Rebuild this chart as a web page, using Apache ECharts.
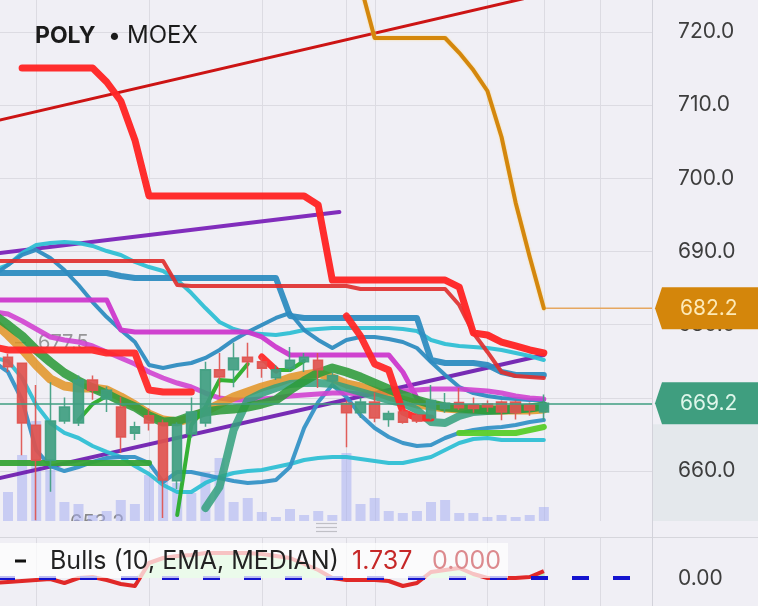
<!DOCTYPE html>
<html>
<head>
<meta charset="utf-8">
<script src="https://cdn.jsdelivr.net/npm/echarts@6.0.0/dist/echarts.min.js"></script>
<style>
html,body{margin:0;padding:0;background:#f0eff5;overflow:hidden;}
#chart{width:758px;height:606px;}
</style>
</head>
<body>
<div id="chart"></div>
<script>
const FONT = 'Inter, Roboto, "Noto Sans", sans-serif';

// candle slots (bar index), -1 is the partly hidden slot at the left edge
const barIndex = [-1,0,1,2,3,4,5,6,7,8,9,10,11,12,13,14,15,16,17,18,19,20,21,22,23,24,25,26,27,28,29,30,31,32,33,34,35,36,37,38];
// day separators (bar index)
const dayBreaks = [2,10,18,24,26,34,38,42];
// price tick labels
const priceTicks = [660,670,680,690,700,710,720];
const bullsTicks = [0];

// candles
const candleOpen  = [null,675.5,674.7,666.2,661.4,666.8,666.5,672.4,669.8,668.7,665.1,667.5,666.5,658.6,665.0,666.5,673.8,673.8,675.5,674.9,672.7,674.0,674.9,675.1,672.3,669.2,667.9,669.4,667.0,668.0,667.5,667.2,668.5,669.3,669.0,669.1,669.4,669.4,669.0,668.0];
const candleClose = [null,674.2,666.5,661.4,666.8,668.7,672.4,671.0,671.0,664.6,666.0,666.5,658.7,666.3,668.0,673.8,672.8,675.4,674.9,674.0,673.8,675.1,675.5,673.8,673.0,667.9,669.4,667.2,667.8,666.6,666.8,669.6,669.2,668.6,668.5,668.7,668.0,667.9,668.3,669.2];
const candleLow   = [null,673.5,662.1,653.2,657.1,666.4,666.1,669.7,668.0,662.4,664.2,665.5,653.5,657.5,664.5,666.0,670.1,671.4,672.7,672.7,672.4,673.5,673.5,671.3,671.5,663.2,667.2,666.6,666.0,666.4,666.5,666.9,667.9,668.3,667.9,668.0,666.9,667.0,667.5,666.9];
const candleHigh  = [null,676.0,674.8,671.7,672.1,670.0,673.0,673.0,671.5,670.1,666.7,668.5,667.0,666.6,670.0,674.9,676.1,677.5,677.5,675.5,674.4,676.9,676.1,676.1,673.5,669.6,670.0,670.7,668.2,668.4,667.8,671.7,670.6,671.3,670.0,669.6,669.6,669.6,669.3,670.4];
const volume      = [null,29,66,103,51,19,17,6,10,21,17,46,41,38,28,49,63,19,23,9,4,12,6,10,6,68,17,23,10,8,10,19,21,8,8,4,6,4,6,14];

// indicator lines
const thickRed  = [null,null,715.08,715.08,715.08,715.08,715.08,715.08,713.16,710.56,705.23,697.57,697.57,697.57,697.57,697.57,697.57,697.57,697.57,697.57,697.57,697.57,697.57,696.33,686.07,686.07,686.07,686.07,686.07,686.07,686.07,686.07,686.07,685.11,678.82,678.55,677.59,677.05,676.50,676.09];
const thinRed   = [688.67,688.67,688.67,688.67,688.67,688.67,688.67,688.67,688.67,688.67,688.67,688.67,688.67,685.39,685.25,685.25,685.25,685.25,685.25,685.25,685.25,685.25,685.25,685.25,685.25,685.25,684.84,684.84,684.84,684.84,684.84,684.84,684.84,682.65,678.82,676.23,673.49,672.94,672.80,672.67];
const redST     = [676.91,676.50,676.50,676.50,676.50,676.50,676.50,676.50,676.09,676.09,676.09,671.03,670.75,670.75,670.75,null,null,null,null,675.54,673.76,null,null,null,null,681.15,678.41,674.58,673.76,668.02,667.20,667.20,null,null,null,null,null,null,null,null];
const greenST   = [null,null,null,null,null,null,666.92,669.11,670.20,null,null,null,null,653.93,666.24,668.70,672.39,672.26,674.58,null,673.76,673.76,675.00,null,null,null,null,null,null,null,null,null,null,null,null,null,null,null,null,null];
const limeLine  = [null,null,null,null,null,null,null,null,null,null,null,null,null,null,null,null,null,null,null,null,null,null,null,null,null,null,null,null,null,null,null,null,null,665.15,665.15,665.15,665.15,665.15,665.56,665.97];
const greenFlat = [661.04,661.04,661.04,661.04,661.04,661.04,661.04,661.04,661.04,661.04,661.04,661.04,null,null,null,null,null,null,null,null,null,null,null,null,null,null,null,null,null,null,null,null,null,null,null,null,null,null,null,null];
const darkGreen = [681.29,679.92,678.41,676.50,674.86,673.35,672.26,671.30,670.48,669.52,668.70,667.47,666.65,666.79,667.47,668.02,668.29,668.43,668.70,669.11,669.66,671.03,672.26,673.35,674.04,673.49,672.80,671.98,671.16,670.34,669.66,669.11,668.70,668.57,668.43,668.29,668.29,668.43,668.57,668.84];
const orangeMA  = [680.33,678.55,676.64,674.45,672.53,671.57,671.30,671.30,671.03,670.07,668.98,667.74,666.92,666.65,667.20,668.16,669.11,670.07,670.75,671.44,671.98,672.67,673.08,673.35,672.67,671.85,671.44,670.89,670.20,669.66,669.11,668.84,668.57,668.43,668.29,668.29,668.29,668.29,668.29,668.43];
const magentaStep  = [683.34,683.34,683.34,683.34,683.34,683.34,683.34,683.34,683.34,679.23,678.96,678.96,678.96,678.96,678.96,678.96,678.96,678.96,678.96,678.28,676.91,675.82,675.82,675.82,675.82,675.82,675.82,675.82,675.82,673.49,669.93,668.57,null,null,null,null,null,null,null,null];
const magentaCurve = [681.70,681.42,680.47,679.37,678.28,677.87,677.59,677.05,676.23,675.41,674.58,673.49,672.67,671.98,671.44,670.61,669.93,669.66,669.66,669.80,669.93,670.20,670.34,670.48,670.61,670.61,670.48,670.48,670.61,670.89,671.03,671.16,671.16,671.16,671.03,670.89,670.61,670.20,669.93,669.80];
const blueStep  = [687.03,687.03,687.03,687.03,687.03,687.03,687.03,687.03,687.03,686.62,686.35,686.35,686.35,686.35,686.35,686.35,686.35,686.35,686.35,686.35,686.35,681.15,680.88,680.88,680.88,680.88,680.88,680.88,680.88,680.88,680.88,675.13,674.72,674.72,674.72,674.45,673.49,673.08,673.08,673.08];
const blueWave  = [686.76,688.13,689.50,690.18,689.09,687.44,685.39,683.06,681.01,679.23,677.59,674.45,674.04,674.45,674.72,675.41,676.50,677.87,678.96,679.92,680.88,681.56,679.23,677.87,676.77,677.87,678.28,678.28,678.00,677.59,676.77,674.86,673.08,671.44,670.61,670.20,669.93,669.80,669.66,669.66];
const blueLow   = [674.86,673.49,669.66,662.82,660.63,659.94,660.49,661.18,661.73,661.86,661.86,661.04,658.44,659.81,659.81,659.40,658.99,658.58,658.31,658.44,658.71,660.49,665.83,669.39,671.71,670.07,667.61,665.83,664.60,663.78,663.37,663.50,664.46,665.15,665.56,665.83,665.97,666.24,666.65,666.92];
const cyanUp    = [687.44,688.13,689.77,690.86,691.13,691.27,691.13,690.73,690.04,689.50,688.54,687.85,687.31,686.07,684.29,682.24,680.33,679.37,678.82,678.69,678.55,678.82,679.23,679.37,679.51,679.51,679.51,679.51,679.51,679.37,679.10,677.87,677.32,677.05,676.91,676.77,676.50,676.09,675.68,675.13];
const cyanLow   = [675.41,675.00,672.67,668.98,666.51,665.15,664.46,663.37,662.55,661.86,660.63,659.54,658.03,657.07,657.07,658.31,659.13,659.67,659.94,660.08,660.49,660.90,661.45,661.73,661.86,661.86,661.59,661.31,661.04,661.04,661.45,661.86,662.82,663.78,664.32,664.46,664.19,664.19,664.19,664.19];
const tealLine  = [null,null,null,null,null,null,null,null,null,null,null,null,null,null,null,654.88,657.76,665.56,669.66,670.61,671.30,671.85,671.98,671.98,671.85,671.30,670.75,670.20,669.66,669.25,668.29,666.65,666.51,667.47,668.02,668.16,668.29,668.43,668.57,668.84];
const goldLine  = [null,null,null,null,null,null,null,null,null,null,null,null,null,null,null,null,null,null,null,null,null,null,null,null,null,734.2,726.4,719.18,719.18,719.18,719.18,719.18,719.18,717.16,714.80,711.93,705.64,696.65,689.22,682.2];
// drawn trend lines: [bar index, price] anchors
const trendRedX = [-1, 38],   trendRedY = [707.77, 725.2];
const purpleUpX = [-1, 23.5], purpleUpY = [689.67, 695.38];
const purpleLoX = [-1, 38],   purpleLoY = [658.80, 675.82];
// Bulls power (10, EMA, MEDIAN)
const bulls = [-1.2,-1.0,-0.75,-0.5,-0.25,-1.25,0,0.25,-0.5,-1.5,-2.0,3.75,5.0,5.5,5.75,6.25,6.25,6.25,6.25,6.0,5.5,5.0,3.5,2.0,0,-0.5,-0.5,-0.5,-0.75,-2.0,-1.25,1.5,2.0,2.5,1.0,0,0,0,0.25,1.737];

// visible ranges of the panes
const X_MIN = -0.567, X_MAX = 45.67;
const P_MIN = 653.106, P_MAX = 724.378;
const B_MIN = -7, B_MAX = 10;

const chart = echarts.init(document.getElementById('chart'), null, {renderer: 'canvas', width: 758, height: 606});

const pairs = arr => barIndex.map((x, k) => [x, arr[k] == null ? '-' : arr[k]]);
const anchors = (xs, ys) => xs.map((x, k) => [x, ys[k]]);
function lineS(data, color, width, opacity, z, extra) {
  return {type: 'line', data, xAxisIndex: 0, yAxisIndex: 0, symbol: 'none', silent: true,
    connectNulls: false, z: z || 2,
    lineStyle: Object.assign({color, width, opacity: opacity == null ? 1 : opacity, cap: 'round', join: 'round'}, extra || {})};
}
const candleData = barIndex.map((x, k) => candleOpen[k] == null ? null :
  [x, candleOpen[k], candleClose[k], candleLow[k], candleHigh[k]]).filter(Boolean);
const lastClose = candleClose[candleClose.length - 1];
const goldLast = goldLine[goldLine.length - 1];
const lastIdx = barIndex[barIndex.length - 1];

const option = {
  animation: false,
  backgroundColor: '#f0eff5',
  grid: [
    {left: 0, width: 652, top: 0, height: 521},
    {left: 0, width: 652, top: 421, height: 100},
    {left: 0, width: 652, top: 538, height: 68}
  ],
  xAxis: [0, 1, 2].map(g => ({type: 'value', gridIndex: g, min: X_MIN, max: X_MAX, show: false, splitLine: {show: false}})),
  yAxis: [
    {type: 'value', gridIndex: 0, min: P_MIN, max: P_MAX, show: false, splitLine: {show: false}},
    {type: 'value', gridIndex: 1, min: 0, max: 100, show: false, splitLine: {show: false}},
    {type: 'value', gridIndex: 2, min: B_MIN, max: B_MAX, show: false, splitLine: {show: false}}
  ],
  series: [
    {type: 'bar', xAxisIndex: 1, yAxisIndex: 1, data: pairs(volume), barWidth: 10, silent: true, z: 1,
     itemStyle: {color: 'rgba(168,174,240,0.55)'}},
    {type: 'candlestick', xAxisIndex: 0, yAxisIndex: 0, data: candleData, barWidth: 10, silent: true, z: 2,
     itemStyle: {color: '#3f9e80', color0: '#e0524e', borderColor: '#3f9e80', borderColor0: '#e0524e', borderWidth: 1.5, opacity: 0.92},
     markLine: {silent: true, symbol: ['none', 'none'], label: {show: false},
       lineStyle: {color: '#3f9e80', width: 1.5, type: 'solid'}, data: [{yAxis: lastClose}]}},
    lineS(anchors(purpleUpX, purpleUpY), '#7a22b8', 4, 0.95),
    lineS(anchors(purpleLoX, purpleLoY), '#7020b0', 4, 0.95),
    lineS(pairs(cyanUp), '#2fbfd4', 4, 0.95),
    lineS(pairs(cyanLow), '#2fbfd4', 4, 0.95),
    lineS(pairs(blueStep), '#2e8cc0', 6, 0.95),
    lineS(pairs(blueWave), '#2e8cc0', 4, 0.95),
    lineS(pairs(blueLow), '#3592c6', 4, 0.95),
    lineS(pairs(magentaStep), '#cc38cc', 5, 0.95),
    lineS(pairs(magentaCurve), '#d042d0', 5, 0.9),
    lineS(anchors(trendRedX, trendRedY), '#cc1414', 3, 1),
    lineS(pairs(thinRed), '#e0302f', 4, 0.92),
    lineS(pairs(orangeMA), '#e0901c', 9, 0.82),
    lineS(pairs(tealLine), '#33a07c', 8, 0.85),
    lineS(pairs(darkGreen), '#2c9b3a', 9, 0.88),
    lineS(pairs(greenFlat), '#36a336', 6, 0.95),
    lineS(pairs(limeLine), '#58cc2a', 6, 0.95),
    lineS(pairs(greenST), '#2aad2a', 4, 0.95),
    lineS(pairs(redST), '#ff2828', 7, 0.95),
    lineS(pairs(thickRed), '#ff2626', 7, 0.97),
    lineS([[lastIdx, goldLast], [X_MAX, goldLast]], '#e6a760', 1.5, 1),
    lineS(pairs(goldLine), '#d4870d', 4, 1, 2, {shadowColor: 'rgba(255,215,120,0.9)', shadowBlur: 2}),
    {type: 'line', xAxisIndex: 2, yAxisIndex: 2, data: pairs(bulls.map(v => Math.max(v, 0))), symbol: 'none', silent: true, z: 2,
     lineStyle: {width: 0}, areaStyle: {color: '#b7f0b7', opacity: 1, origin: 0}},
    {type: 'line', xAxisIndex: 2, yAxisIndex: 2, data: pairs(bulls), symbol: 'none', silent: true, z: 3,
     lineStyle: {color: '#e02828', width: 4, join: 'round'},
     markLine: {silent: true, symbol: ['none', 'none'], label: {show: false},
       lineStyle: {color: '#1414cf', width: 4, type: [17, 24], dashOffset: 2}, data: [{yAxis: 0}]}}
  ]
};
chart.setOption(option);

const yPx = v => chart.convertToPixel({yAxisIndex: 0}, v);
const yBx = v => chart.convertToPixel({yAxisIndex: 2}, v);
const xPx = v => chart.convertToPixel({xAxisIndex: 0}, v);
const maxHigh = Math.max(...candleHigh.filter(v => v != null));
const minLow = Math.min(...candleLow.filter(v => v != null));
const yG = yPx(lastClose), yO = yPx(goldLast);

function tag(y, fill, textColor, value) {
  return [
    {type: 'polygon', z: 70, shape: {points: [[655, y], [662, y - 21], [760, y - 21], [760, y + 21], [662, y + 21]]},
     style: {fill}},
    {type: 'text', z: 71, x: 680, y: y, style: {text: value.toFixed(1), fill: textColor, fontSize: 21, fontFamily: FONT, verticalAlign: 'middle'}}
  ];
}

const elements = [];
// right axis tint below the last-price tag
elements.push({type: 'rect', z: 0, shape: {x: 653, y: yG + 21, width: 105, height: 521 - (yG + 21)}, style: {fill: '#e4e8ec'}});
// horizontal grid lines + price labels
priceTicks.forEach(v => {
  const y = Math.round(yPx(v)) + 0.5;
  elements.push({type: 'line', z: 0, shape: {x1: 0, y1: y, x2: 652, y2: y}, style: {stroke: '#dcdbe2', lineWidth: 1}});
  elements.push({type: 'text', z: 1, x: 678, y: yPx(v), style: {text: v.toFixed(1), fill: '#3d3d3d', fontSize: 21, fontFamily: FONT, verticalAlign: 'middle'}});
});
bullsTicks.forEach(v => {
  elements.push({type: 'text', z: 1, x: 678, y: yBx(v) + 1, style: {text: v.toFixed(2), fill: '#3d3d3d', fontSize: 21, fontFamily: FONT, verticalAlign: 'middle'}});
});
// day separators
dayBreaks.forEach(d => {
  const x = Math.round(xPx(d)) + 0.5;
  elements.push({type: 'line', z: 0, shape: {x1: x, y1: 0, x2: x, y2: 606}, style: {stroke: '#dcdbe2', lineWidth: 1}});
});
// price-scale separator
elements.push({type: 'line', z: 65, shape: {x1: 652.5, y1: 0, x2: 652.5, y2: 606}, style: {stroke: '#d2d2da', lineWidth: 1}});
// high / low markers
elements.push({type: 'line', z: 1, shape: {x1: 15, y1: yPx(maxHigh), x2: 26, y2: yPx(maxHigh)}, style: {stroke: 'rgba(120,120,120,0.7)', lineWidth: 1.5}});
elements.push({type: 'text', z: 1, x: 38, y: yPx(maxHigh), style: {text: maxHigh.toFixed(1), fill: 'rgba(120,120,120,0.75)', fontSize: 20, fontFamily: FONT, verticalAlign: 'middle'}});
elements.push({type: 'text', z: 1, x: 70, y: yPx(minLow) + 3, style: {text: minLow.toFixed(1), fill: 'rgba(110,110,110,0.8)', fontSize: 20, fontFamily: FONT, verticalAlign: 'middle'}});
// pane divider
elements.push({type: 'rect', z: 60, shape: {x: 0, y: 521, width: 758, height: 16}, style: {fill: '#f0eff5'}});
elements.push({type: 'line', z: 61, shape: {x1: 0, y1: 537.5, x2: 758, y2: 537.5}, style: {stroke: '#d6d6dc', lineWidth: 1}});
[523.5, 527.5, 531.5].forEach(y => elements.push({type: 'line', z: 61, shape: {x1: 316, y1: y, x2: 337, y2: y}, style: {stroke: '#c0c0c6', lineWidth: 1.2}}));
// indicator legend box
elements.push({type: 'rect', z: 60, shape: {x: 0, y: 543, width: 508, height: 35}, style: {fill: 'rgba(255,255,255,0.72)'}});
elements.push({type: 'line', z: 62, shape: {x1: 15, y1: 561, x2: 26, y2: 561}, style: {stroke: '#111', lineWidth: 3}});
elements.push({type: 'text', z: 62, x: 50, y: 561, style: {text: 'Bulls (10, EMA, MEDIAN)', fill: '#222', fontSize: 25, fontFamily: FONT, verticalAlign: 'middle'}});
elements.push({type: 'text', z: 62, x: 352, y: 561, style: {text: bulls[bulls.length - 1].toFixed(3), fill: '#c62828', fontSize: 25, fontFamily: FONT, verticalAlign: 'middle'}});
elements.push({type: 'text', z: 62, x: 432, y: 561, style: {text: '0.000', fill: '#dc8a8e', fontSize: 25, fontFamily: FONT, verticalAlign: 'middle'}});
// title
elements.push({type: 'text', z: 62, x: 35, y: 36, style: {text: 'POLY', fill: '#1b1b1b', fontSize: 23, fontWeight: 'bold', fontFamily: FONT, verticalAlign: 'middle'}});
elements.push({type: 'text', z: 62, x: 108, y: 36, style: {text: '•', fill: '#1b1b1b', fontSize: 23, fontFamily: FONT, verticalAlign: 'middle'}});
elements.push({type: 'text', z: 62, x: 127, y: 36, style: {text: 'MOEX', fill: '#1b1b1b', fontSize: 24, fontFamily: FONT, verticalAlign: 'middle'}});
// price tags
elements.push(...tag(yO, '#d4860b', '#fde9b6', goldLast));
elements.push(...tag(yG, '#3f9e7f', '#def6ea', lastClose));

chart.setOption({graphic: {elements}});
</script>
</body>
</html>
